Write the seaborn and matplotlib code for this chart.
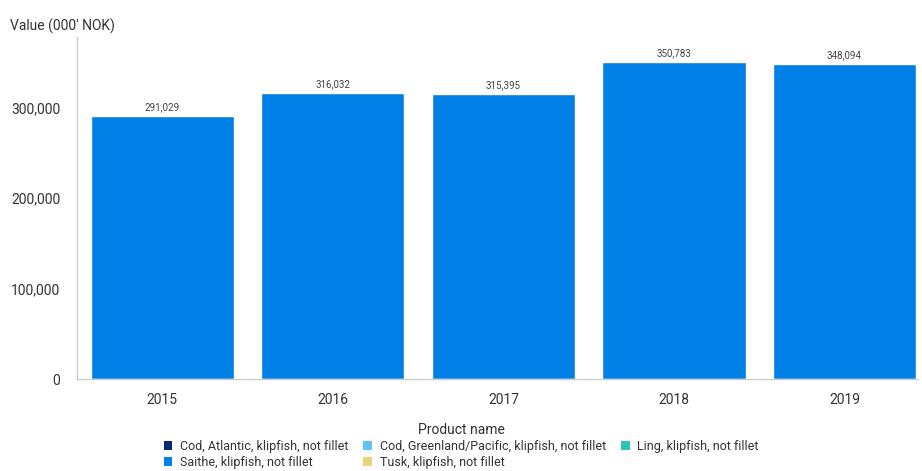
import matplotlib
matplotlib.use("Agg")
import matplotlib.pyplot as plt
from matplotlib.patches import Patch
import seaborn as sns
import pandas as pd

# data
years = ["2015", "2016", "2017", "2018", "2019"]
saithe = [291029, 316032, 315395, 350783, 348094]

products = ["Cod, Atlantic, klipfish, not fillet",
            "Cod, Greenland/Pacific, klipfish, not fillet",
            "Ling, klipfish, not fillet",
            "Saithe, klipfish, not fillet",
            "Tusk, klipfish, not fillet"]
colors = ["#0b2a6e", "#5fc3f9", "#2ec4b6", "#0080e6", "#e8d27a"]

df = pd.DataFrame({"year": years, "value": saithe})

sns.set_style("white")
plt.rcParams["font.family"] = ["Roboto", "DejaVu Sans"]

fig = plt.figure(figsize=(9.22, 4.71), dpi=100)
ax = fig.add_axes([0.0835, 0.1953, 0.912, 0.7261])

sns.barplot(data=df, x="year", y="value", color=colors[3], saturation=1,
            width=0.84, ax=ax)

for i, v in enumerate(saithe):
    ax.text(i, v + 4000, f"{v:,}", ha="center", va="bottom", fontsize=7, color="#444444")

ax.set_ylim(0, 378000)
ax.set_xlim(-0.5, 4.43)
ax.set_yticks([0, 100000, 200000, 300000])
ax.set_yticklabels(["0", "100,000", "200,000", "300,000"])
ax.set_xlabel("")
ax.set_ylabel("")
ax.tick_params(axis="both", labelsize=10, colors="#333333", length=4)
ax.tick_params(axis="y", color="#cccccc", pad=8)
ax.tick_params(axis="x", color="#cccccc", pad=6)
for s in ["top", "right"]:
    ax.spines[s].set_visible(False)
for s in ["left", "bottom"]:
    ax.spines[s].set_color("#cccccc")
    ax.spines[s].set_linewidth(1)

fig.text(0.011, 0.945, "Value (000' NOK)", fontsize=10, color="#333333", va="center")

# legend lists all products, filled column by column
order = [0, 3, 1, 4, 2]
handles = [Patch(facecolor=colors[k], edgecolor="none", label=products[k]) for k in order]
leg = fig.legend(handles=handles, loc="lower center", bbox_to_anchor=(0.5, -0.012),
                 ncol=3, frameon=False, fontsize=9, title="Product name",
                 title_fontsize=10, handlelength=0.7, handleheight=0.7,
                 handletextpad=0.6, columnspacing=1.2, labelspacing=0.25,
                 borderaxespad=0.2)
for t in leg.get_texts():
    t.set_color("#333333")
leg.get_title().set_color("#333333")

fig.savefig("out.png", dpi=100)
